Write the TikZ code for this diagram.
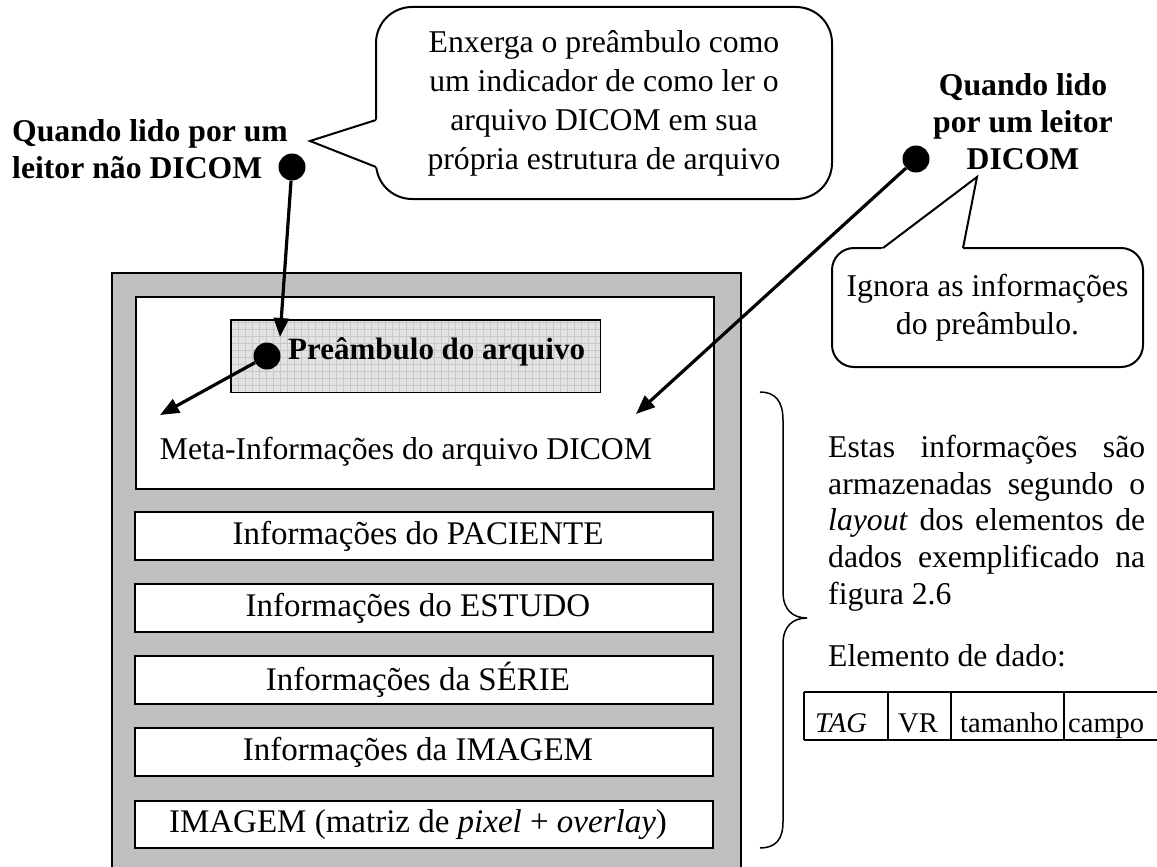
\documentclass[tikz,border=0pt]{standalone}
\usepackage{fontspec}
\setmainfont{Liberation Serif}
\usetikzlibrary{arrows.meta}
\definecolor{grayfill}{HTML}{C0C0C0}
\definecolor{prefill}{HTML}{E2E2E2}
\definecolor{gridc}{HTML}{C8C8C8}
\begin{document}
\begin{tikzpicture}[x=1pt,y=-1pt,
  txt/.style={inner sep=0pt, font=\fontsize{31.7}{37}\selectfont},
  rowtxt/.style={inner sep=0pt, font=\fontsize{33}{38}\selectfont},
  btxt/.style={inner sep=0pt, font=\fontsize{31.7}{37}\selectfont\bfseries},
  smalltxt/.style={inner sep=0pt, font=\fontsize{28.5}{33}\selectfont},
  rowbox/.style={draw=black, line width=2pt, fill=white, minimum width=578pt, inner sep=0pt},
  callout/.style={draw=black, line width=2pt, fill=white},
  dotnode/.style={circle, fill=black, inner sep=0pt, minimum size=27pt},
  conn/.style={line width=3.2pt, -{Triangle[length=19pt,width=15pt]}},
  thinline/.style={line width=1.5pt}
]
\clip (0,0) rectangle (1157,867);
% outer gray container
\node[draw=black, line width=2pt, fill=grayfill, minimum width=629pt, minimum height=660pt, anchor=north west] (outer) at (111,272) {};
% meta box
\node[rowbox, minimum height=192pt, anchor=north west] (meta) at (135,296) {};
% preamble box with grid
\node[fill=prefill, minimum width=369pt, minimum height=72pt, anchor=north west, inner sep=0pt] (pre) at (231,320) {};
\begin{scope}
  \clip (pre.north west) rectangle (pre.south east);
  \draw[gridc, line width=0.7pt, step=7pt] (pre.north west) grid (pre.south east);
\end{scope}
\draw[line width=1.8pt] (pre.north west) rectangle (pre.south east);
\node[btxt, font=\fontsize{31}{37}\selectfont\bfseries, anchor=west] (pretext) at (288,352) {Preâmbulo do arquivo};
\node[txt] (metatext) at (406,452) {Meta-Informações do arquivo DICOM};
% rows
\node[rowbox, minimum height=48pt] (pac) at (424,536) {};
\node[rowbox, minimum height=48pt] (est) at (424,608) {};
\node[rowbox, minimum height=48pt] (ser) at (424,680) {};
\node[rowbox, minimum height=48pt] (ima) at (424,752) {};
\node[rowbox, minimum height=47pt] (mat) at (424,824.5) {};
\node[rowtxt] (pact) at (418,536) {Informações do PACIENTE};
\node[rowtxt] (estt) at (418,608) {Informações do ESTUDO};
\node[rowtxt] (sert) at (418,680) {Informações da SÉRIE};
\node[rowtxt] (imat) at (418,752) {Informações da IMAGEM};
\node[rowtxt] (matt) at (418,824.5) {IMAGEM (matriz de \textit{pixel} + \textit{overlay})};
% top callout
\node[callout, rounded corners=36pt, minimum width=456pt, minimum height=192pt, txt, align=center, font=\fontsize{31.7}{39}\selectfont] (c1) at (604,103) {Enxerga o preâmbulo como\\um indicador de como ler o\\arquivo DICOM em sua\\própria estrutura de arquivo};
\coordinate (c1a) at (376,120);
\coordinate (c1tip) at (310,141);
\coordinate (c1b) at (376,167);
\fill[white] (379,119) -- (c1tip) -- (379,168.2) -- cycle;
\draw[line width=2pt, line join=miter] (c1a) -- (c1tip) -- (c1b);
% right callout
\node[callout, rounded corners=22pt, minimum width=311pt, minimum height=119pt, txt, align=center, font=\fontsize{31.7}{38}\selectfont] (c2) at (987.5,307.5) {Ignora as informações\\do preâmbulo.};
\coordinate (c2a) at (883,248);
\coordinate (c2tip) at (977,177);
\coordinate (c2b) at (963,248);
\fill[white] (879,251) -- (c2tip) -- (962.4,251) -- cycle;
\draw[line width=2pt, line join=miter] (c2a) -- (c2tip) -- (c2b);
% labels
\node[btxt, align=left, anchor=west] (llab) at (12,149) {Quando lido por um\\leitor não DICOM};
\node[btxt, align=center] (rlab) at (1023,122) {Quando lido\\por um leitor\\DICOM};
% dots
\node[dotnode] (dl) at (292,167) {};
\node[dotnode] (dp) at (267,356) {};
\node[dotnode] (dr) at (916,159) {};
% arrows
\coordinate (tl) at (280,337);
\coordinate (tp) at (160,415);
\coordinate (tr) at (636,414);
\draw[conn] (dl) -- (tl);
\draw[conn] (dp) -- (tp);
\draw[conn] (dr) -- (tr);
% brace
\draw[thinline] (760,392) .. controls (775,392) and (783,401) .. (783,420) -- (783,592) .. controls (783,610) and (793,618) .. (807,618) .. controls (793,618) and (783,626) .. (783,644) -- (783,822) .. controls (783,840) and (775,848) .. (760,848);
% paragraph
\node[txt, anchor=base west] (p1) at (828,457) {\makebox[317pt][s]{Estas informações são}};
\node[txt, anchor=base west] (p2) at (828,494) {\makebox[317pt][s]{armazenadas segundo o}};
\node[txt, anchor=base west] (p3) at (828,530) {\makebox[317pt][s]{\textit{layout} dos elementos de}};
\node[txt, anchor=base west] (p4) at (828,567) {\makebox[317pt][s]{dados exemplificado na}};
\node[txt, anchor=base west] (p5) at (828,604) {figura 2.6};
\node[txt, anchor=base west] (elem) at (828,666) {Elemento de dado:};
% table
\coordinate (tbl1) at (804,692);
\coordinate (tbl2) at (1160,692);
\coordinate (tbl3) at (804,740);
\coordinate (tbl4) at (1160,740);
\draw[thinline] (tbl1) -- (tbl2);
\draw[thinline] (tbl3) -- (tbl4);
\draw[thinline] (804,692) -- (804,740);
\draw[thinline] (888,692) -- (888,740);
\draw[thinline] (951,692) -- (951,740);
\draw[thinline] (1064,692) -- (1064,740);
\node[smalltxt, anchor=base west] (ttag) at (815,732) {\textit{TAG}};
\node[smalltxt, anchor=base west] (tvr) at (898,732) {VR};
\node[smalltxt, anchor=base west] (ttam) at (960,732) {tamanho};
\node[smalltxt, anchor=base west] (tcam) at (1068,732) {campo};
\end{tikzpicture}
\end{document}
